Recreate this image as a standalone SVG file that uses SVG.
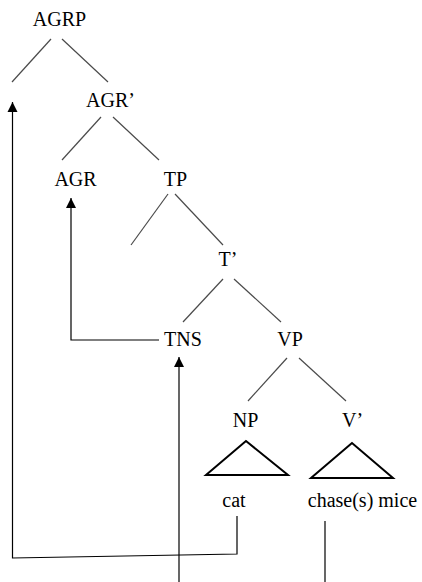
<svg xmlns="http://www.w3.org/2000/svg" width="422" height="582" viewBox="0 0 422 582">
  <style>
    .lbl { font-family: "Liberation Serif", "Times New Roman", Times, serif; font-size: 20px; fill: #000; text-anchor: middle; }
    .branch { stroke: #4a4a4a; stroke-width: 1.2; fill: none; }
    .tri { stroke: #000; stroke-width: 2; fill: none; stroke-linejoin: miter; }
    .move { stroke: #000; stroke-width: 1.2; fill: none; }
  </style>
  <defs>
    <marker id="head" markerUnits="userSpaceOnUse" markerWidth="10" markerHeight="11" refX="10" refY="5" orient="auto" viewBox="0 0 10 10">
      <path d="M0,0 L10,5 L0,10 Z" fill="#000"/>
    </marker>
  </defs>
  <rect width="422" height="582" fill="#fff"/>

  <g id="agrp"><text class="lbl" x="59.5" y="26">AGRP</text></g>
  <g id="agr-bar"><text class="lbl" x="110.5" y="107">AGR’</text></g>
  <g id="agr"><text class="lbl" x="75.5" y="186">AGR</text></g>
  <g id="tp"><text class="lbl" x="175.5" y="186">TP</text></g>
  <g id="t-bar"><text class="lbl" x="228" y="266">T’</text></g>
  <g id="tns"><text class="lbl" x="183" y="346">TNS</text></g>
  <g id="vp"><text class="lbl" x="290" y="346">VP</text></g>
  <g id="np">
    <text class="lbl" x="245.5" y="427">NP</text>
    <polygon class="tri" points="246,441 206,475 288,475"/>
    <text class="lbl" x="234" y="507">cat</text>
  </g>
  <g id="v-bar">
    <text class="lbl" x="352.5" y="427">V’</text>
    <polygon class="tri" points="352,443 311,478 393,478"/>
    <text class="lbl" x="362.5" y="507">chase(s) mice</text>
  </g>

  <g id="connectors">
    <!-- tree branches -->
    <line class="branch" x1="51" y1="39" x2="12" y2="82"/>
    <line class="branch" x1="62" y1="39" x2="108" y2="82"/>
    <line class="branch" x1="101" y1="117" x2="62" y2="160"/>
    <line class="branch" x1="113" y1="117" x2="159" y2="160"/>
    <line class="branch" x1="168" y1="194" x2="131" y2="245"/>
    <line class="branch" x1="175" y1="194" x2="223" y2="245"/>
    <line class="branch" x1="223" y1="279" x2="183" y2="322"/>
    <line class="branch" x1="234" y1="279" x2="281" y2="322"/>
    <line class="branch" x1="287" y1="358" x2="248" y2="401"/>
    <line class="branch" x1="299" y1="358" x2="346" y2="401"/>
    <!-- movement arrows -->
    <polyline class="move" points="237,516 237,554 12.5,558 12.5,102" marker-end="url(#head)"/>
    <polyline class="move" points="159,340 71,340 71,198" marker-end="url(#head)"/>
    <line class="move" x1="179" y1="582" x2="179" y2="357" marker-end="url(#head)"/>
    <line class="move" x1="325" y1="521" x2="325" y2="582"/>
  </g>
</svg>
